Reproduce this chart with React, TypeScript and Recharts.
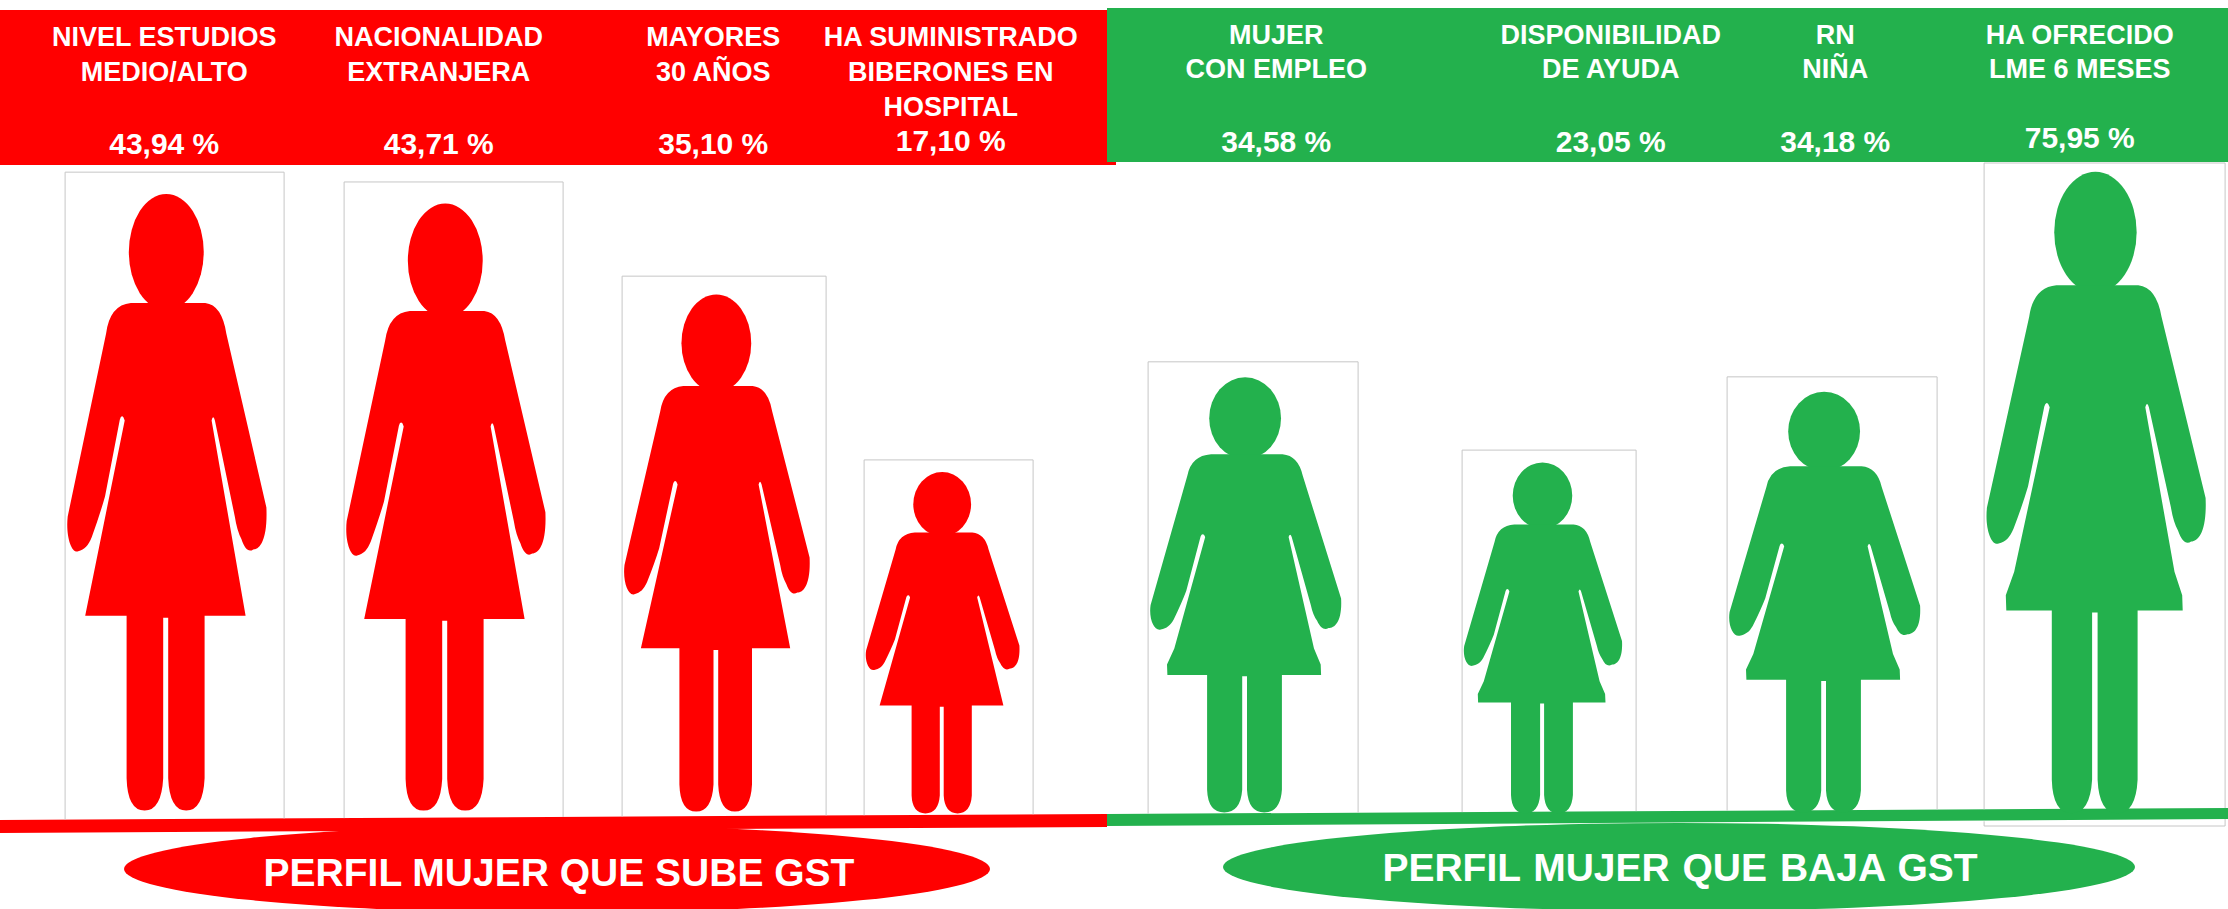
import { Bar, BarChart, Customized, XAxis, YAxis } from "recharts";

const categorias = [
  "NIVEL ESTUDIOS\nMEDIO/ALTO",
  "NACIONALIDAD\nEXTRANJERA",
  "MAYORES\n30 AÑOS",
  "HA SUMINISTRADO\nBIBERONES EN\nHOSPITAL",
  "MUJER\nCON EMPLEO",
  "DISPONIBILIDAD\nDE AYUDA",
  "RN\nNIÑA",
  "HA OFRECIDO\nLME 6 MESES",
];
const porcentajes = ["43,94 %", "43,71 %", "35,10 %", "17,10 %", "34,58 %", "23,05 %", "34,18 %", "75,95 %"];
// Height of each pictogram, relative to the tallest one (not proportional to the % in the source).
const alturaFigura = [98.6, 97.1, 82.7, 54.6, 69.6, 56.1, 67.3, 100];
const grupo = ["sube", "sube", "sube", "sube", "baja", "baja", "baja", "baja"];

const data = categorias.map((c, i) => ({ categoria: c, altura: alturaFigura[i] }));

const RED = "#ff0000";
const GREEN = "#23b14d";
const BOX = "#c6c6c6";
const FONT = '"Liberation Sans", Arial, sans-serif';

// Layout of the hand-placed pictograms and headers, relative to the centre of their band.
const FIGURE_DX = [35.25, 35.75, 27.75, -26.25, -0.25, 17.25, 21.75, 15.75];
const FIGURE_W = [219, 219, 204, 169, 210, 174, 210, 241];
const FIGURE_DROP = [0, 0, 0, 0, 0, 0, 0, 9];
const FIGURE_LIFT = [0, 0, 0, 0, 0, 0, 0, 14];
const FIGURE_STRETCH = [1, 1, 1, 1, 1, 1, 1, 1.012];
const HEADER_DX = [25, 21, 17, -24, 23, 79, 25, -9];
const VALUE_Y = [154, 154, 154, 151, 152, 152, 152, 148];

// The two ground lines are slightly tilted, boxes stop at their upper edge.
const lineTop = (x: number) => (x < 1107 ? 820 - (6 * x) / 1107 : 814 - (6 * (x - 1107)) / 1121);

function headPath(x: number, y: number, w: number, h: number) {
  const rx = 0.171 * w;
  const ry = 0.09 * h;
  const cx = x + 0.462 * w;
  const cy = y + 0.124 * h;
  return `M${cx - rx} ${cy}A${rx} ${ry} 0 1 1 ${cx + rx} ${cy}A${rx} ${ry} 0 1 1 ${cx - rx} ${cy}Z`;
}

function bodyPath(x: number, y: number, w: number, h: number, stubHem: boolean) {
  const P = (a: number, b: number) => `${(x + a * w).toFixed(1)} ${(y + b * h).toFixed(1)}`;
  return [
    `M${P(0.37, 0.203)}`,
    `L${P(0.3, 0.203)}`,
    `Q${P(0.205, 0.206)} ${P(0.187, 0.25)}`,
    `L${P(0.012, 0.534)}`,
    `C${P(0.002, 0.565)} ${P(0.03, 0.592)} ${P(0.06, 0.588)}`,
    `C${P(0.09, 0.585)} ${P(0.105, 0.58)} ${P(0.122, 0.566)}`,
    `Q${P(0.16, 0.53)} ${P(0.182, 0.503)}`,
    `L${P(0.25, 0.384)}`,
    `Q${P(0.256, 0.376)} ${P(0.266, 0.38)}`,
    `L${P(0.272, 0.385)}`,
    ...(stubHem ? [`L${P(0.125, 0.63)}`, `L${P(0.09, 0.665)}`] : []),
    `L${P(0.092, 0.688)}`,
    `L${P(0.281, 0.688)}`,
    `L${P(0.281, 0.94)}`,
    `Q${P(0.285, 0.99)} ${P(0.363, 0.99)}`,
    `Q${P(0.44, 0.99)} ${P(0.448, 0.94)}`,
    `L${P(0.448, 0.691)}`,
    `L${P(0.471, 0.691)}`,
    `L${P(0.471, 0.94)}`,
    `Q${P(0.477, 0.99)} ${P(0.553, 0.99)}`,
    `Q${P(0.63, 0.99)} ${P(0.637, 0.94)}`,
    `L${P(0.637, 0.688)}`,
    `L${P(0.824, 0.688)}`,
    ...(stubHem ? [`L${P(0.822, 0.665)}`, `L${P(0.79, 0.63)}`] : []),
    `L${P(0.669, 0.385)}`,
    `Q${P(0.676, 0.375)} ${P(0.684, 0.385)}`,
    `L${P(0.775, 0.534)}`,
    `Q${P(0.785, 0.556)} ${P(0.805, 0.569)}`,
    `C${P(0.82, 0.585)} ${P(0.84, 0.59)} ${P(0.859, 0.585)}`,
    `C${P(0.89, 0.585)} ${P(0.925, 0.57)} ${P(0.919, 0.52)}`,
    `L${P(0.736, 0.25)}`,
    `Q${P(0.715, 0.206)} ${P(0.64, 0.203)}`,
    `L${P(0.56, 0.203)}`,
    "Z",
  ].join("");
}

function Figure(props: any) {
  const { x, y, width, height, index } = props;
  const w = FIGURE_W[index];
  const left = x + width / 2 + FIGURE_DX[index] - w / 2;
  const right = left + w;
  const drop = FIGURE_DROP[index];
  const h = height + drop;
  const green = grupo[index] === "baja";
  const fill = green ? GREEN : RED;
  const figY = y - FIGURE_LIFT[index];
  const figH = h * FIGURE_STRETCH[index];
  const bottom = y + h;
  return (
    <g>
      <path
        d={`M${left} ${lineTop(left)}L${left} ${y}L${right} ${y}L${right} ${lineTop(right)}`}
        fill="none"
        stroke={BOX}
        strokeWidth={1}
      />
      {drop > 0 && (
        <path
          d={`M${left} ${lineTop(left) + 12}L${left} ${bottom}L${right} ${bottom}L${right} ${lineTop(right) + 11}`}
          fill="none"
          stroke={BOX}
          strokeWidth={1}
        />
      )}
      <path d={headPath(left, figY, w, figH)} fill={fill} />
      <path d={bodyPath(left, figY, w, figH, green)} fill={fill} />
    </g>
  );
}

function HeaderTick(props: any) {
  const { x, index, payload } = props;
  const cx = x + HEADER_DX[index];
  const green = grupo[index] === "baja";
  const y0 = green ? 44 : 46;
  const step = green ? 34 : 35;
  const lines = String(payload.value).split("\n");
  return (
    <g fontFamily={FONT} fontWeight={700} fill="#fff" textAnchor="middle">
      {lines.map((l, i) => (
        <text key={i} x={cx} y={y0 + i * step} fontSize={27}>
          {l}
        </text>
      ))}
      <text x={cx} y={VALUE_Y[index]} fontSize={30}>
        {porcentajes[index]}
      </text>
    </g>
  );
}

const Bands = () => (
  <g>
    <rect x={0} y={10} width={1116} height={155} fill={RED} />
    <rect x={1107} y={8} width={1121} height={154} fill={GREEN} />
  </g>
);

const Footer = () => (
  <g fontFamily={FONT} fontWeight={700} fontSize={39} fill="#fff" textAnchor="middle">
    <ellipse cx={557} cy={869} rx={433} ry={44} fill={RED} />
    <ellipse cx={1679} cy={867} rx={456} ry={44} fill={GREEN} />
    <polygon points="0,820 1107,814 1107,827 0,833" fill={RED} />
    <polygon points="1107,814 2228,808 2228,819 1107,826" fill={GREEN} />
    <text x={559} y={886}>PERFIL MUJER QUE SUBE GST</text>
    <text x={1680} y={881} wordSpacing={2}>PERFIL MUJER QUE BAJA GST</text>
  </g>
);

export default function App() {
  return (
    <div style={{ position: "absolute", left: 0, top: 0, width: 2228, height: 909 }}>
      <BarChart width={2228} height={909} data={data} margin={{ top: 0, right: 0, bottom: 92, left: 0 }}>
        <Customized component={Bands} />
        <Customized component={Footer} />
        <XAxis
          dataKey="categoria"
          orientation="top"
          height={163}
          interval={0}
          axisLine={false}
          tickLine={false}
          tick={<HeaderTick />}
        />
        <YAxis hide domain={[0, 100]} />
        <Bar dataKey="altura" isAnimationActive={false} shape={<Figure />} />
      </BarChart>
    </div>
  );
}
